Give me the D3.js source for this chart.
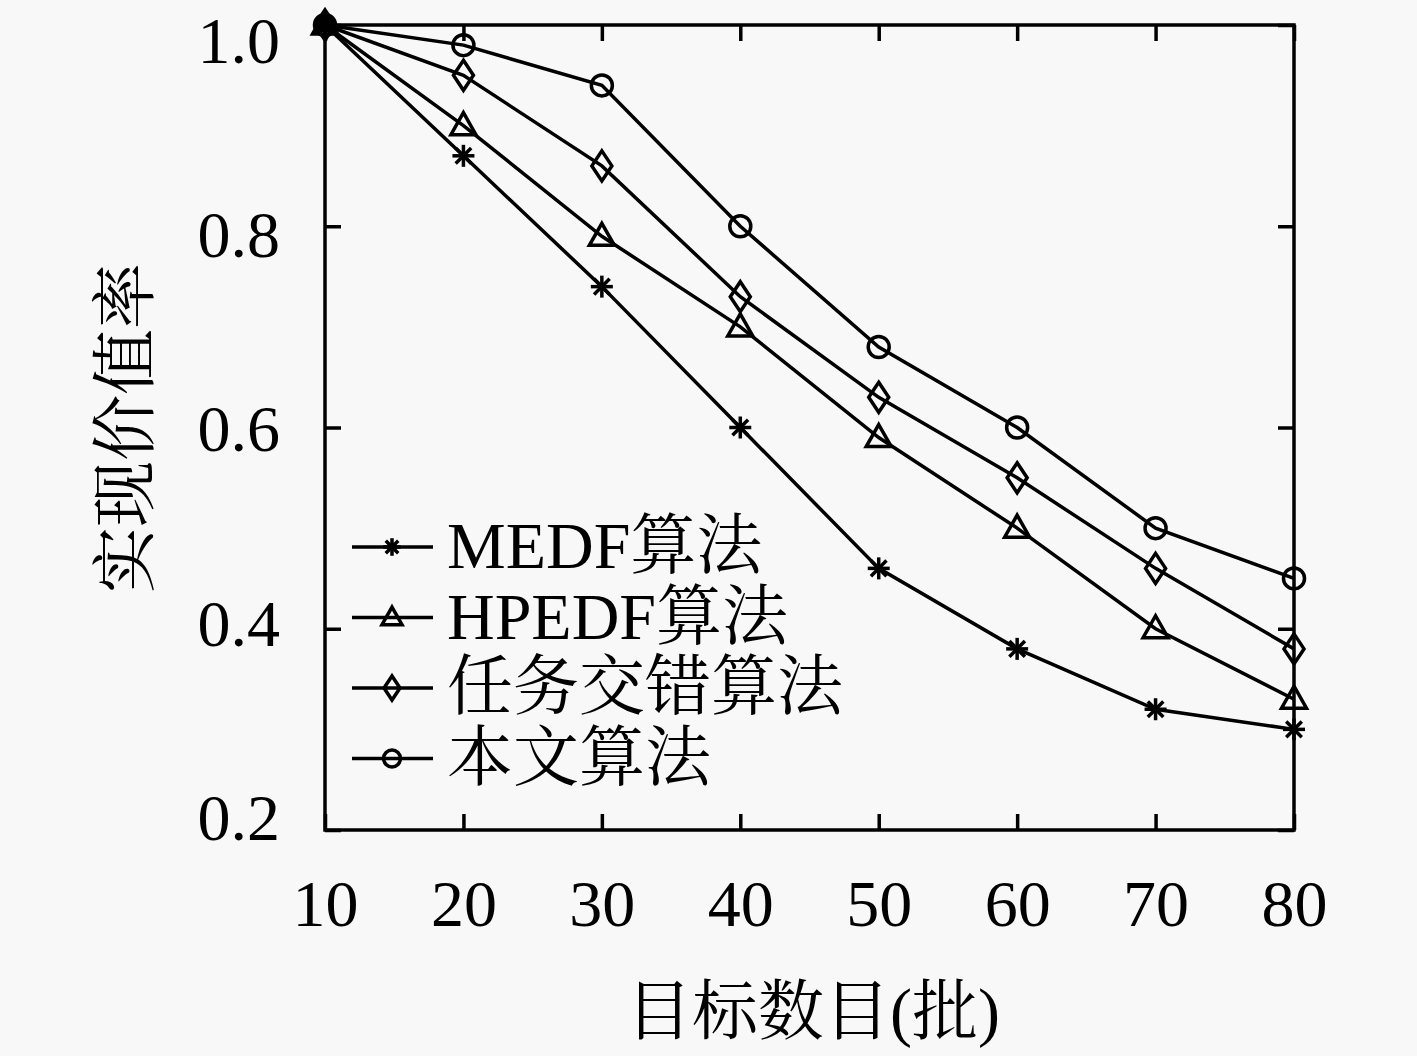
<!DOCTYPE html>
<html><head><meta charset="utf-8">
<script src="https://cdn.jsdelivr.net/npm/d3@7/dist/d3.min.js"></script>
<style>body{margin:0;background:#f8f8f8}svg{display:block}</style>
</head><body>
<svg id="c" width="1417" height="1056"></svg>
<script>
const xValues = [10, 20, 30, 40, 50, 60, 70, 80];
const yTicks = [0.2, 0.4, 0.6, 0.8, 1.0];
const seriesNames = ["MEDF算法", "HPEDF算法", "任务交错算法", "本文算法"];
const seriesMarkers = ["star", "triangle", "diamond", "circle"];
const medf   = [1.0, 0.87, 0.74, 0.60, 0.46, 0.38, 0.32, 0.30];
const hpedf  = [1.0, 0.90, 0.79, 0.70, 0.59, 0.50, 0.40, 0.33];
const jiaocuo= [1.0, 0.95, 0.86, 0.73, 0.63, 0.55, 0.46, 0.38];
const benwen = [1.0, 0.98, 0.94, 0.80, 0.68, 0.60, 0.50, 0.45];
const seriesValues = [medf, hpedf, jiaocuo, benwen];
const xTitle = "目标数目(批)";
const yTitle = "实现价值率";

const svg = d3.select("#c");
const L = 325, R = 1294, T = 25, B = 830;
const x = d3.scaleLinear().domain([10, 80]).range([L, R]);
const y = d3.scaleLinear().domain([0.2, 1.0]).range([B, T]);
// tick labels sit on a slightly compressed vertical scale
const yLab = d3.scaleLinear().domain([0.2, 1.0]).range([817, 40]);
const serif = "'Liberation Serif','DejaVu Serif',serif";
const cjk = "'Liberation Serif','Noto Serif CJK SC','Noto Sans CJK SC',serif";
const SW = 3.5;

// frame
svg.append("rect").attr("x", L).attr("y", T).attr("width", R - L).attr("height", B - T)
  .attr("fill", "none").attr("stroke", "#000").attr("stroke-width", SW);

const tl = 16;
const gB = svg.append("g").attr("transform", `translate(0,${B})`)
  .call(d3.axisBottom(x).tickValues(xValues).tickSize(-tl).tickPadding(49).tickFormat(d3.format("d")));
const gT = svg.append("g").attr("transform", `translate(0,${T})`)
  .call(d3.axisTop(x).tickValues(xValues).tickSize(-tl).tickFormat(""));
const gL = svg.append("g").attr("transform", `translate(${L},0)`)
  .call(d3.axisLeft(y).tickValues(yTicks).tickSize(-tl).tickPadding(45).tickFormat(d3.format(".1f")));
const gR = svg.append("g").attr("transform", `translate(${R},0)`)
  .call(d3.axisRight(y).tickValues(yTicks).tickSize(-tl).tickFormat(""));
[gB, gT, gL, gR].forEach(g => {
  g.select(".domain").remove();
  g.selectAll(".tick line").attr("stroke", "#000").attr("stroke-width", SW);
  g.selectAll("text").attr("font-family", serif).attr("font-size", 66).attr("fill", "#000");
});
gB.selectAll("text").attr("dy", "0.71em");
gL.selectAll(".tick text").attr("dy", "0.34em").attr("y", d => yLab(d) - y(d));

function marker(g, type, cx, cy, k) {
  k = k || 1;
  const s = g.append("g").attr("transform", `translate(${cx},${cy}) scale(${k})`);
  const ap = (sel) => sel.attr("fill", "none").attr("stroke", "#000").attr("stroke-width", SW / k);
  if (type === "circle") ap(s.append("circle").attr("r", 10.5));
  else if (type === "diamond") ap(s.append("path").attr("d", "M0,-15L10,0L0,15L-10,0Z"));
  else if (type === "triangle") ap(s.append("path").attr("d", "M0,-13L12.5,9L-12.5,9Z"));
  else if (type === "star") {
    for (let i = 0; i < 4; i++) {
      const a = i * Math.PI / 4;
      ap(s.append("line").attr("x1", -11 * Math.cos(a)).attr("y1", -11 * Math.sin(a))
        .attr("x2", 11 * Math.cos(a)).attr("y2", 11 * Math.sin(a)));
    }
  }
}

const line = d3.line().x((d, i) => x(xValues[i])).y(d => y(d));
seriesValues.forEach((vals, si) => {
  svg.append("path").attr("d", line(vals)).attr("fill", "none")
    .attr("stroke", "#000").attr("stroke-width", SW);
  const g = svg.append("g");
  vals.forEach((v, i) => marker(g, seriesMarkers[si], x(xValues[i]), y(v)));
});
svg.append("circle").attr("cx", x(10)).attr("cy", y(1.0) - 2).attr("r", 10).attr("fill", "#000");

// legend
const legY0 = 547, legDy = 70.5;
seriesNames.forEach((name, i) => {
  const ly = legY0 + i * legDy;
  const g = svg.append("g");
  g.append("line").attr("x1", 352).attr("x2", 433).attr("y1", ly).attr("y2", ly)
    .attr("stroke", "#000").attr("stroke-width", SW);
  marker(g, seriesMarkers[i], 392, ly, 0.8);
  g.append("text").attr("x", 447).attr("y", ly + 21).attr("font-family", cjk)
    .attr("font-size", 66).attr("fill", "#000").text(name);
});

svg.append("text").attr("x", 813).attr("y", 1034).attr("text-anchor", "middle")
  .attr("font-family", cjk).attr("font-size", 66).attr("fill", "#000").text(xTitle);
svg.append("text").attr("transform", "translate(148,428) rotate(-90)").attr("text-anchor", "middle")
  .attr("font-family", cjk).attr("font-size", 66).attr("fill", "#000").text(yTitle);
</script>
</body></html>
